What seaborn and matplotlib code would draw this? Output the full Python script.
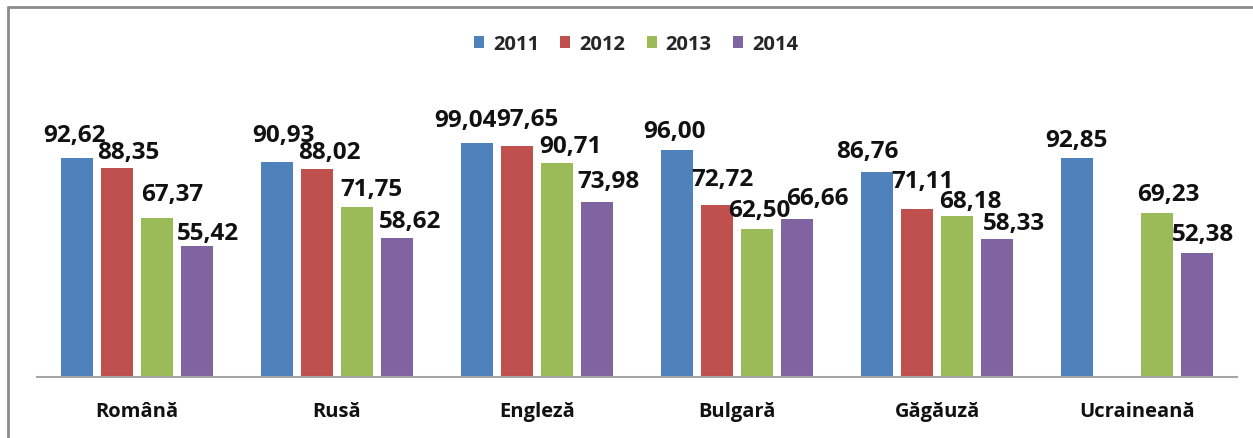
import matplotlib
matplotlib.use("Agg")
import matplotlib.pyplot as plt
from matplotlib.lines import Line2D
import numpy as np
import pandas as pd
import seaborn as sns

languages = ["Română", "Rusă", "Engleză", "Bulgară", "Găgăuză", "Ucraineană"]
years = ["2011", "2012", "2013", "2014"]
v2011 = [92.62, 90.93, 99.04, 96.00, 86.76, 92.85]
v2012 = [88.35, 88.02, 97.65, 72.72, 71.11, np.nan]
v2013 = [67.37, 71.75, 90.71, 62.50, 68.18, 69.23]
v2014 = [55.42, 58.62, 73.98, 66.66, 58.33, 52.38]
colors = ["#4F81BD", "#C0504D", "#9BBB59", "#8064A2"]

rows = []
for yr, vals in zip(years, [v2011, v2012, v2013, v2014]):
    for lang, v in zip(languages, vals):
        rows.append({"lang": lang, "year": yr, "val": v})
df = pd.DataFrame(rows)

# label placement nudges (pixels: horizontal shift, gap above bar), per year/language
label_nudge = {
    "2011": [(-2, 17), (6, 21), (-12, 17), (-2, 13), (-10, 15), (-1, 12)],
    "2012": [(11, 10), (12, 11), (10, 21), (5, 20), (6, 22), (0, 12)],
    "2013": [(15, 18), (14, 12), (13, 11), (2, 13), (13, 9), (11, 13)],
    "2014": [(11, 7), (13, 11), (11, 15), (20, 15), (17, 10), (6, 13)],
}

sns.set_theme(style="white")
FONT = ["Open Sans", "Noto Sans", "DejaVu Sans"]
plt.rcParams["font.family"] = FONT

W, H = 1253, 439
fig = plt.figure(figsize=(W / 100, H / 100), dpi=100)
left, right = 37 / W, 1237 / W
bottom = (H - 377.5) / H
height = 130 * 2.357 / H
ax = fig.add_axes([left, bottom, right - left, height])

sns.barplot(data=df, x="lang", y="val", hue="year", order=languages,
            hue_order=years, palette=colors, width=0.8, gap=0.2,
            saturation=1, linewidth=0, ax=ax, legend=True)

ax.set_ylim(0, 130)
ax.set_xlim(-0.5, len(languages) - 0.5)
ax.set_xlabel("")
ax.set_ylabel("")
ax.set_yticks([])
for s in ["top", "right", "left"]:
    ax.spines[s].set_visible(False)
ax.spines["bottom"].set_color("#a6a6a6")
ax.spines["bottom"].set_linewidth(1.5)
ax.tick_params(axis="x", length=0, pad=18)
for lbl in ax.get_xticklabels():
    lbl.set_fontsize(14.5)
    lbl.set_fontweight("bold")
    lbl.set_color("#111111")

# value labels
px = 72 / 100.0
for yr, cont in zip(years, ax.containers):
    for bar in cont:
        h = bar.get_height()
        if np.isnan(h) or h == 0:
            continue
        xc = bar.get_x() + bar.get_width() / 2
        k = int(round(xc))
        dx, gap = label_nudge[yr][k]
        ax.annotate(f"{h:.2f}".replace(".", ","),
                    xy=(xc, h), xytext=(dx * px, gap * px),
                    textcoords="offset points",
                    ha="center", va="baseline", fontsize=17.5,
                    fontweight="bold", color="#111111")

handles, labels = ax.get_legend_handles_labels()
if ax.legend_:
    ax.legend_.remove()
fig.legend(handles, labels, loc="center", bbox_to_anchor=(636 / W, 1 - 45 / H),
           ncol=4, frameon=False, handlelength=0.5, handleheight=0.5,
           handletextpad=0.45, columnspacing=1.05,
           prop={"family": FONT, "weight": "bold", "size": 14.5})

# outer frame (left and top border)
fig.add_artist(Line2D([8 / W, 8 / W], [0, 1 - 8 / H], transform=fig.transFigure,
                      color="#8c8c8c", linewidth=2))
fig.add_artist(Line2D([8 / W, 1], [1 - 8 / H, 1 - 8 / H], transform=fig.transFigure,
                      color="#8c8c8c", linewidth=2))

fig.savefig("out.png", dpi=100, facecolor="white")
